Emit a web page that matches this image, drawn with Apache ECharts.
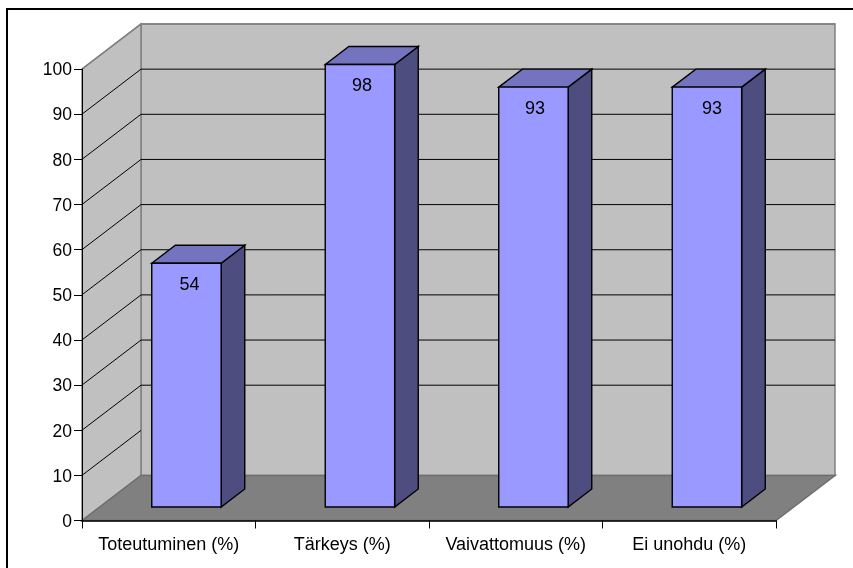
<!DOCTYPE html>
<html>
<head>
<meta charset="utf-8">
<style>
html,body{margin:0;padding:0;background:#fff;}
#chart{width:853px;height:568px;}
</style>
<script src="https://cdn.jsdelivr.net/npm/echarts@6/dist/echarts.min.js"></script>
</head>
<body>
<div id="chart"></div>
<script>
const categories = ['Toteutuminen (%)', 'Tärkeys (%)', 'Vaivattomuus (%)', 'Ei unohdu (%)'];
const values = [54, 98, 93, 93];
const gridValues = [10, 20, 30, 40, 50, 60, 70, 80, 90, 100];

// Oblique projection of the chart box: depth vector and bar proportions.
const DEPTH_X = 59, DEPTH_Y = -45;
const BAR_FRONT = 0.3, BAR_BACK = 0.7, BAR_WIDTH = 0.4;
const LABEL_SHIFT = [3, 2, 1.5, 5];
const FONT = 'Liberation Sans, Arial, sans-serif';
const FONT_SIZE = 18;

const chart = echarts.init(document.getElementById('chart'), null, {renderer: 'canvas'});

function poly(points, fill, stroke, lineWidth) {
  return {type: 'polygon', shape: {points}, style: {fill, stroke, lineWidth}};
}

// Walls and floor of the box, then one grid line per tick value.
function renderBox(params, api) {
  const r = params.coordSys;
  const l = r.x, rt = r.x + r.width, t = r.y, b = r.y + r.height;
  const wall = '#c0c0c0', edge = '#808080';
  if (params.dataIndex === 0) {
    return {type: 'group', children: [
      poly([[l + DEPTH_X, t + DEPTH_Y], [rt + DEPTH_X, t + DEPTH_Y], [rt + DEPTH_X, b + DEPTH_Y], [l + DEPTH_X, b + DEPTH_Y]], wall, edge, 1.5),
      poly([[l, t], [l + DEPTH_X, t + DEPTH_Y], [l + DEPTH_X, b + DEPTH_Y], [l, b]], wall, edge, 1.5),
      poly([[l, b], [l + DEPTH_X, b + DEPTH_Y], [rt + DEPTH_X, b + DEPTH_Y], [rt, b]], '#808080', '#6e6e6e', 1.5)
    ]};
  }
  const v = api.value(0);
  const y = api.coord([0, v])[1];
  const lowest = v === gridValues[0];
  const highest = v === gridValues[gridValues.length - 1];
  // The lowest tick meets the floor edge, so only its side-wall part is drawn; the highest one is the wall's rim.
  const points = lowest
    ? [[l, y], [l + DEPTH_X, y + DEPTH_Y]]
    : [[l, y], [l + DEPTH_X, y + DEPTH_Y], [rt + DEPTH_X, y + DEPTH_Y]];
  return {type: 'polyline', shape: {points},
    style: {fill: null, stroke: highest ? edge : '#000', lineWidth: highest ? 1.5 : 1}};
}

// One oblique bar: side face, top face, front face and its value label.
function renderBar(params, api) {
  const idx = api.value(0), val = api.value(1);
  const top = api.coord([idx, val]);
  const base = api.coord([idx, 0]);
  const band = api.size([1, 0])[0];
  const fx = DEPTH_X * BAR_FRONT, fy = DEPTH_Y * BAR_FRONT;
  const sx = DEPTH_X * (BAR_BACK - BAR_FRONT), sy = DEPTH_Y * (BAR_BACK - BAR_FRONT);
  const half = band * BAR_WIDTH / 2;
  const x0 = top[0] - half + fx, x1 = top[0] + half + fx;
  const yT = top[1] + fy, yB = base[1] + fy;
  const line = '#000', w = 1.4;
  return {type: 'group', children: [
    poly([[x1, yT], [x1 + sx, yT + sy], [x1 + sx, yB + sy], [x1, yB]], '#4d4d80', line, w),
    poly([[x0, yT], [x0 + sx, yT + sy], [x1 + sx, yT + sy], [x1, yT]], '#7373bf', line, w),
    poly([[x0, yT], [x1, yT], [x1, yB], [x0, yB]], '#9999ff', line, w),
    {type: 'text', x: (x0 + x1) / 2 + LABEL_SHIFT[idx], y: yT + 22, style: {
      text: String(val), fill: '#000', font: FONT_SIZE + 'px ' + FONT, align: 'center', verticalAlign: 'middle'}}
  ]};
}

chart.setOption({
  animation: false,
  backgroundColor: '#fff',
  graphic: [{type: 'polyline', silent: true, z: 10,
    shape: {points: [[7, 568], [7, 9], [853, 9]]},
    style: {fill: null, stroke: '#000', lineWidth: 2}}],
  grid: {left: 82, top: 69, width: 694, height: 451.5, containLabel: false},
  xAxis: {type: 'category', data: categories, z: 5,
    axisLine: {lineStyle: {color: '#000', width: 1.5}},
    axisTick: {show: true, length: 8, lineStyle: {color: '#000', width: 1}},
    axisLabel: {color: '#000', fontFamily: FONT, fontSize: FONT_SIZE, margin: 16, interval: 0}},
  yAxis: {type: 'value', min: 0, max: 100, interval: 10, z: 5, splitLine: {show: false},
    axisLine: {show: true, lineStyle: {color: '#000', width: 1}},
    axisTick: {show: true, length: 8, lineStyle: {color: '#000', width: 1}},
    axisLabel: {color: '#000', fontFamily: FONT, fontSize: 17.5, margin: 10, verticalAlign: 'top', lineHeight: 3}},
  series: [
    {type: 'custom', coordinateSystem: 'cartesian2d', silent: true, clip: false, z: 1,
     renderItem: renderBox, encode: {y: 0}, data: [[0]].concat(gridValues.map(v => [v]))},
    {type: 'custom', coordinateSystem: 'cartesian2d', silent: true, clip: false, z: 2,
     renderItem: renderBar, encode: {x: 0, y: 1}, data: values.map((v, i) => [i, v])}
  ]
});
</script>
</body>
</html>
